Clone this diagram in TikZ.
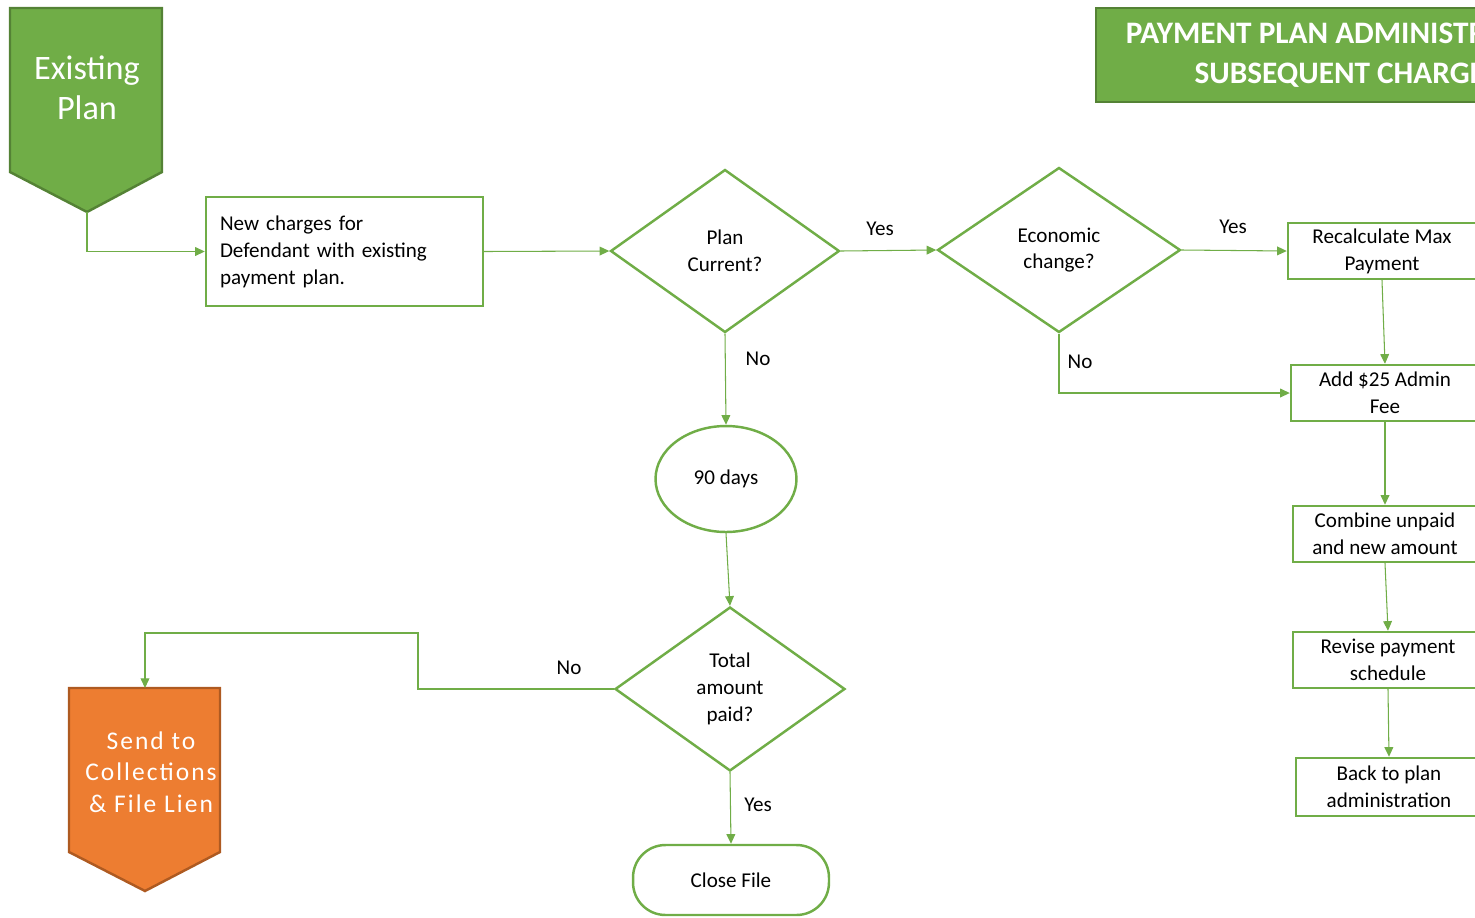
\documentclass[tikz,border=0pt]{standalone}
\usepackage{fontspec}
\setmainfont{Carlito}
\newfontfamily\spacedfont[LetterSpace=8]{Carlito}
\usetikzlibrary{shapes.geometric, arrows.meta, positioning, calc}
\definecolor{planGreen}{RGB}{112, 173, 71}
\definecolor{planGreenDark}{RGB}{84, 130, 53}
\definecolor{lienOrange}{RGB}{237, 125, 49}
\definecolor{lienOrangeDark}{RGB}{174, 90, 33}

\begin{document}
\begin{tikzpicture}[x=0.02cm, y=-0.02cm,
        every node/.style={font=\fontsize{12}{15.3}\selectfont},
        box/.style={draw=planGreen, line width=1.4pt, minimum width=3.76cm, minimum height=1.12cm, align=center, inner sep=2pt},
        decision/.style={diamond, draw=planGreen, line width=1.4pt, align=center, inner sep=0pt},
        link/.style={draw=planGreen, line width=0.6pt, -{Triangle[width=5pt, length=5.5pt]}},
        answer/.style={inner sep=0pt}]
        \useasboundingbox (0,0) rectangle (1475,917);
        \clip (0,0) rectangle (1475,917);

        % banners
        \draw[fill=planGreen, draw=planGreenDark, line width=1.4pt] (10,8) -- (162,8) -- (162,172) -- (87,212) -- (10,172) -- cycle;
        \node[text=white, align=center, font=\fontsize{19.5}{22.7}\selectfont] (exist) at (87,88) {Existing\\Plan};
        \coordinate (existtip) at (87,212);

        \draw[fill=lienOrange, draw=lienOrangeDark, line width=1.4pt] (69,688) -- (220,688) -- (220,852) -- (145,891) -- (69,852) -- cycle;
        \node[text=white, align=center, font=\spacedfont\fontsize{14.5}{18}\selectfont] (lien) at (151,772) {Send to\\Collections\\\& File Lien};
        \coordinate (lientop) at (145,688);

        \node[fill=planGreen, draw=planGreenDark, line width=1.4pt, minimum width=10.04cm, minimum height=1.88cm, text=white, align=center, font=\bfseries\fontsize{17.8}{22.7}\selectfont] (title) at (1347,55) {PAYMENT PLAN ADMINISTRATION\\SUBSEQUENT CHARGES};

        % main flow
        \node[box, minimum width=5.54cm, minimum height=2.18cm, text width=4.98cm, inner xsep=0.28cm, align=left] (newch) at (344.5,251.5) {New charges for\\Defendant with existing\\payment plan.};
        \node[decision, minimum width=4.58cm, minimum height=3.26cm] (current) at (725,251) {Plan\\Current?};
        \node[decision, minimum width=4.86cm, minimum height=3.3cm] (econ) at (1059,250) {Economic\\change?};
        \node[ellipse, draw=planGreen, line width=1.4pt, minimum width=2.82cm, minimum height=2.12cm] (wait) at (726,479) {90 days};
        \node[decision, minimum width=4.6cm, minimum height=3.28cm] (paid) at (730,689) {Total\\amount\\paid?};
        \node[draw=planGreen, line width=1.4pt, rounded corners=0.65cm, minimum width=3.92cm, minimum height=1.4cm] (close) at (731,880) {Close File};

        % right column
        \node[box] (recalc) at (1382,251) {Recalculate Max\\Payment};
        \node[box] (fee) at (1385,393) {Add \$25 Admin\\Fee};
        \node[box, minimum width=3.68cm] (combine) at (1385,534) {Combine unpaid\\and new amount};
        \node[box, minimum width=3.8cm] (revise) at (1388,660) {Revise payment\\schedule};
        \node[box, minimum width=3.72cm, minimum height=1.16cm] (back) at (1389,787) {Back to plan\\administration};

        % connectors
        \draw[link] (existtip) |- (newch.west);
        \draw[link] (newch.east) -- (current.west);
        \draw[link] (current.east) -- (econ.west);
        \draw[link] (econ.east) -- (recalc.west);
        \draw[link] (current.south) -- (wait.north);
        \draw[link] (econ.south) |- (fee.west);
        \draw[link] (recalc.south) -- (fee.north);
        \draw[link] (fee.south) -- (combine.north);
        \draw[link] (combine.south) -- (revise.north);
        \draw[link] (revise.south) -- (back.north);
        \draw[link] (wait.south) -- (paid.north);
        \coordinate (bend) at (418,633);
        \draw[link] (paid.west) -| (bend) -| (lientop);
        \draw[link] (paid.south) -- (close.north);

        % answers
        \node[answer] (yes1) at (880,229) {Yes};
        \node[answer] (yes2) at (1233,227) {Yes};
        \node[answer] (no1) at (758,359) {No};
        \node[answer] (no2) at (1080,362) {No};
        \node[answer] (no3) at (569,668) {No};
        \node[answer] (yes3) at (758,805) {Yes};
    \end{tikzpicture}
\end{document}
